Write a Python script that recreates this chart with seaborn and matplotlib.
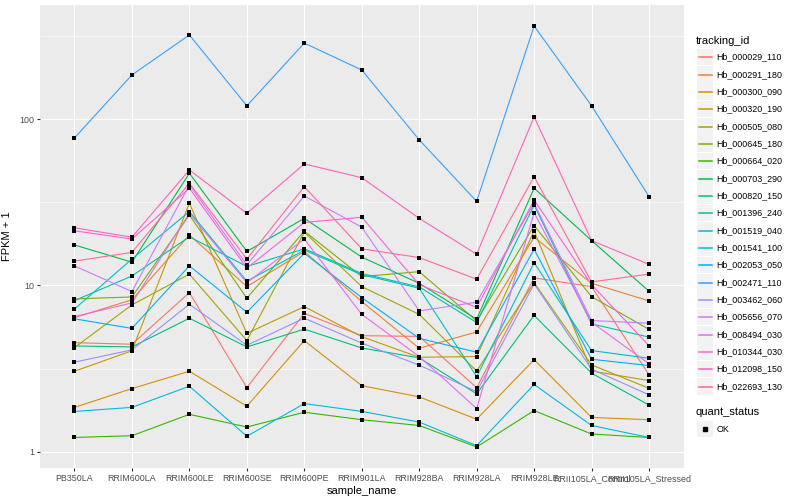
import numpy as np
import pandas as pd
import matplotlib
matplotlib.use('Agg')
import matplotlib.pyplot as plt
import seaborn as sns
from matplotlib.patches import Rectangle
from matplotlib.lines import Line2D

samples = ['PB350LA', 'RRIM600LA', 'RRIM600LE', 'RRIM600SE', 'RRIM600PE', 'RRIM901LA',
           'RRIM928BA', 'RRIM928LA', 'RRIM928LE', 'RRII105LA_Control', 'RRII105LA_Stressed']

tracking_ids = ['Hb_000029_110', 'Hb_000291_180', 'Hb_000300_090', 'Hb_000320_190',
                'Hb_000505_080', 'Hb_000645_180', 'Hb_000664_020', 'Hb_000703_290',
                'Hb_000820_150', 'Hb_001396_240', 'Hb_001519_040', 'Hb_001541_100',
                'Hb_002053_050', 'Hb_002471_110', 'Hb_003462_060', 'Hb_005656_070',
                'Hb_008494_030', 'Hb_010344_030', 'Hb_012098_150', 'Hb_022693_130']

# FPKM + 1, one list per gene, in sample order
hb_000029_110 = [4.53, 4.43, 9.05, 2.43, 6.79, 4.99, 4.94, 2.43, 11.1, 9.84, 2.90]
hb_000291_180 = [6.4, 8.2, 20.1, 9.84, 16.0, 8.0, 4.19, 5.26, 19.5, 10.3, 8.07]
hb_000300_090 = [1.85, 2.40, 3.05, 1.88, 4.66, 2.50, 2.14, 1.57, 3.58, 1.61, 1.56]
hb_000320_190 = [3.05, 4.05, 31.2, 5.15, 7.46, 4.92, 3.70, 3.74, 21.3, 3.06, 2.68]
hb_000505_080 = [4.23, 7.64, 11.7, 4.66, 20.9, 9.84, 6.70, 3.06, 10.4, 3.33, 2.41]
hb_000645_180 = [8.3, 8.53, 26.5, 8.38, 21.2, 11.3, 12.1, 6.12, 22.9, 8.57, 5.44]
hb_000664_020 = [1.22, 1.25, 1.68, 1.41, 1.73, 1.56, 1.44, 1.07, 1.77, 1.28, 1.22]
hb_000703_290 = [17.5, 13.8, 47.2, 16.0, 25.3, 14.8, 10.3, 6.27, 38.4, 18.6, 9.23]
hb_000820_150 = [4.33, 4.27, 6.35, 4.27, 5.46, 4.21, 3.67, 2.23, 6.61, 2.97, 1.91]
hb_001396_240 = [8.1, 11.4, 19.6, 13.0, 16.6, 11.8, 9.8, 5.98, 30.4, 5.87, 4.89]
hb_001519_040 = [7.22, 14.4, 27.8, 10.6, 16.3, 11.6, 9.62, 2.83, 13.7, 4.06, 3.65]
hb_001541_100 = [1.75, 1.85, 2.48, 1.24, 1.95, 1.75, 1.51, 1.09, 2.54, 1.44, 1.22]
hb_002053_050 = [6.3, 5.52, 13.1, 6.90, 15.6, 8.45, 4.81, 3.97, 16.5, 3.60, 3.30]
hb_002471_110 = [77, 184, 320, 120, 286, 197, 75, 32, 362, 120, 34.2]
hb_003462_060 = [3.46, 4.10, 7.71, 4.37, 6.36, 4.50, 3.32, 2.30, 10.2, 3.14, 2.20]
hb_005656_070 = [13.1, 9.19, 40.2, 13.3, 34.5, 22.4, 7.03, 7.93, 31.2, 6.15, 5.93]
hb_008494_030 = [6.5, 7.85, 27.1, 10.4, 19.0, 6.70, 3.74, 1.82, 27.4, 6.01, 3.38]
hb_010344_030 = [21.3, 19.0, 38.4, 12.7, 23.9, 25.7, 10.1, 7.38, 32.6, 10.1, 4.34]
hb_012098_150 = [22.2, 19.5, 49.4, 27.1, 53.7, 44.4, 25.3, 15.4, 103, 18.6, 13.4]
hb_022693_130 = [14.0, 15.8, 41.1, 14.4, 39.2, 16.6, 14.7, 10.9, 45.0, 10.5, 11.7]

series = [hb_000029_110, hb_000291_180, hb_000300_090, hb_000320_190, hb_000505_080,
          hb_000645_180, hb_000664_020, hb_000703_290, hb_000820_150, hb_001396_240,
          hb_001519_040, hb_001541_100, hb_002053_050, hb_002471_110, hb_003462_060,
          hb_005656_070, hb_008494_030, hb_010344_030, hb_012098_150, hb_022693_130]


def hue_pal(n, c=100, l=65):
    # same colours as ggplot2's default discrete hue scale
    M = np.array([[3.2404542, -1.5371385, -0.4985314],
                  [-0.9692660, 1.8760108, 0.0415560],
                  [0.0556434, -0.2040259, 1.0572252]])
    Xn, Yn, Zn = 0.95047, 1.0, 1.08883
    un = 4 * Xn / (Xn + 15 * Yn + 3 * Zn)
    vn = 9 * Yn / (Xn + 15 * Yn + 3 * Zn)
    out = []
    for h in np.linspace(15, 375, n + 1)[:-1]:
        hr = np.deg2rad(h)
        u = c * np.cos(hr) / (13 * l) + un
        v = c * np.sin(hr) / (13 * l) + vn
        Y = ((l + 16) / 116) ** 3
        X = 9 * Y * u / (4 * v)
        Z = (12 - 3 * u - 20 * v) * Y / (4 * v)
        rgb = M @ np.array([X, Y, Z])
        rgb = np.where(rgb <= 0.0031308, 12.92 * rgb, 1.055 * np.abs(rgb) ** (1 / 2.4) - 0.055)
        out.append(tuple(np.clip(rgb, 0, 1)))
    return out


colors = hue_pal(len(tracking_ids))

df = pd.DataFrame({
    'sample_name': np.tile(samples, len(tracking_ids)),
    'pos': np.tile(np.arange(len(samples)), len(tracking_ids)),
    'tracking_id': np.repeat(tracking_ids, len(samples)),
    'fpkm1': np.concatenate(series),
})

plt.rcParams['font.family'] = ['Liberation Sans', 'DejaVu Sans']

W, H = 800, 500
fig = plt.figure(figsize=(8, 5), dpi=100)
fig.patch.set_facecolor('white')
ax = fig.add_axes([40 / W, 32 / H, (683.5 - 40) / W, (468 - 5) / H])
ax.set_facecolor('#EBEBEB')

sns.lineplot(data=df, x='pos', y='fpkm1', hue='tracking_id', hue_order=tracking_ids,
             palette=colors, estimator=None, sort=False, linewidth=0.8, legend=False, ax=ax)
sns.scatterplot(data=df, x='pos', y='fpkm1', color='black', marker='s', s=9,
                linewidth=0, legend=False, ax=ax, zorder=3)

ax.set_yscale('log')
lo, hi = np.log10(df.fpkm1.min()), np.log10(df.fpkm1.max())
pad = 0.05 * (hi - lo)
ax.set_ylim(10 ** (lo - pad), 10 ** (hi + pad))
ax.set_xlim(-0.6, len(samples) - 0.4)

ax.set_yticks([1, 10, 100])
ax.set_yticklabels(['1', '10', '100'])
ax.set_yticks([10 ** 0.5, 10 ** 1.5, 10 ** 2.5], minor=True)
ax.set_yticklabels([], minor=True)
ax.set_xticks(range(len(samples)))
ax.set_xticklabels(samples)

ax.grid(which='major', color='white', linewidth=0.8)
ax.grid(which='minor', axis='y', color='white', linewidth=0.4)
ax.set_axisbelow(True)
for s in ax.spines.values():
    s.set_visible(False)
ax.tick_params(which='major', length=2.2, width=0.8, color='#333333',
               labelcolor='#4D4D4D', labelsize=6.4, pad=2)
ax.tick_params(which='minor', length=0)

ax.set_xlabel('sample_name', fontsize=8, color='black', labelpad=2)
ax.set_ylabel('FPKM + 1', fontsize=8, color='black', labelpad=5)

# legend drawn in pixel positions like ggplot's guide boxes
def px(x, y):
    return x / W, 1 - y / H

fig.text(*px(696, 41), 'tracking_id', fontsize=8, va='center', ha='left')
step = 17.33
for i, (tid, col) in enumerate(zip(tracking_ids, colors)):
    cy = 57 + i * step
    x0, y0 = px(697.3, cy + 8.3)
    fig.add_artist(Rectangle((x0, y0), 15.6 / W, 16.6 / H, transform=fig.transFigure,
                             facecolor='#F2F2F2', edgecolor='none'))
    fig.add_artist(Line2D([698.5 / W, 711.5 / W], [1 - (cy + 0.3) / H] * 2,
                          transform=fig.transFigure, color=col, linewidth=1.1))
    fig.text(*px(716.5, cy), tid, fontsize=6.4, va='center', ha='left')

fig.text(*px(696, 412), 'quant_status', fontsize=8, va='center', ha='left')
x0, y0 = px(697.3, 437.3)
fig.add_artist(Rectangle((x0, y0), 15.6 / W, 16.6 / H, transform=fig.transFigure,
                         facecolor='#F2F2F2', edgecolor='none'))
fig.add_artist(Line2D([705 / W], [1 - 429 / H], transform=fig.transFigure, marker='s',
                      markersize=3, color='black', linewidth=0))
fig.text(*px(716.5, 429), 'OK', fontsize=6.4, va='center', ha='left')

fig.savefig('out.png', dpi=100)
